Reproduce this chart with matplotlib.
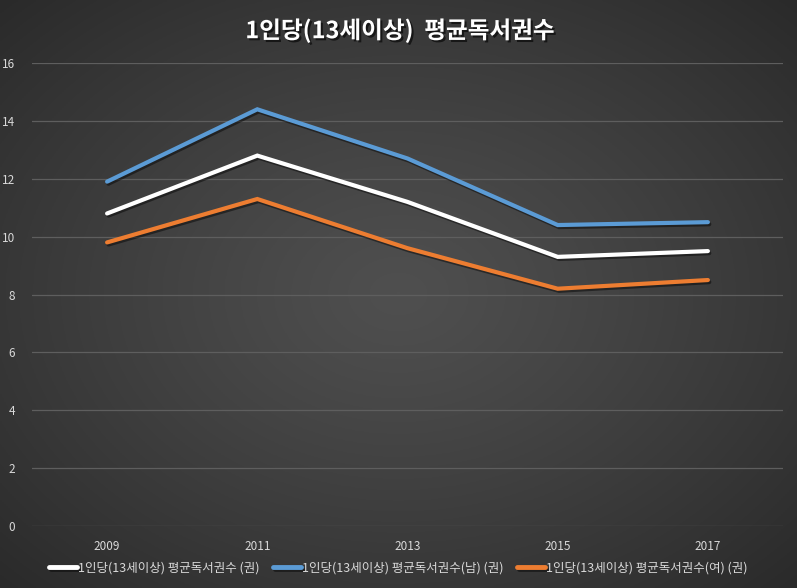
import numpy as np
import matplotlib.pyplot as plt
import matplotlib.patheffects as pe

plt.rcParams['font.family'] = ['Noto Sans CJK KR', 'DejaVu Sans']

years = ['2009', '2011', '2013', '2015', '2017']
total = [10.8, 12.8, 11.2, 9.3, 9.5]
male = [11.9, 14.4, 12.7, 10.4, 10.5]
female = [9.8, 11.3, 9.6, 8.2, 8.5]
labels = ['1인당(13세이상) 평균독서권수 (권)',
          '1인당(13세이상) 평균독서권수(남) (권)',
          '1인당(13세이상) 평균독서권수(여) (권)']
colors = ['#ffffff', '#5b9bd5', '#ed7d31']
yticks = [0, 2, 4, 6, 8, 10, 12, 14, 16]

fig = plt.figure(figsize=(7.97, 5.88), dpi=100)

# radial gradient background
bg = fig.add_axes([0, 0, 1, 1], zorder=-10)
gx, gy = np.meshgrid(np.linspace(-1, 1, 400), np.linspace(-1, 1, 300))
r = np.clip(np.sqrt(gx**2 + gy**2) / np.sqrt(2), 0, 1)
shade = 0.31 - 0.145 * r**1.2
bg.imshow(np.dstack([shade, shade, shade]), aspect='auto', extent=[0, 1, 0, 1])
bg.axis('off')

ax = fig.add_axes([32 / 797, 62 / 588, 751 / 797, 463 / 588])
ax.patch.set_alpha(0)
x = np.arange(len(years))
shadow = [pe.SimpleLineShadow(offset=(1, -1.5), shadow_color='black', alpha=0.45), pe.Normal()]
for vals, c, lab in zip([total, male, female], colors, labels):
    ax.plot(x, vals, color=c, lw=3.0, label=lab, solid_capstyle='round',
            solid_joinstyle='miter', path_effects=shadow)

ax.set_xlim(-0.5, len(years) - 0.5)
ax.set_ylim(0, 16)
ax.set_yticks(yticks)
ax.set_xticks(x)
ax.set_xticklabels(years)
ax.grid(axis='y', color='#5e5e5e', lw=0.9)
ax.set_axisbelow(True)
for s in ax.spines.values():
    s.set_visible(False)
ax.tick_params(length=0, colors='#d9d9d9', labelsize=8.5)
ax.tick_params(axis='y', pad=12)
ax.tick_params(axis='x', pad=10)

fig.text(0.502, 0.948, '1인당(13세이상)  평균독서권수', ha='center', va='center',
         fontsize=17, fontweight='bold', color='white',
         path_effects=[pe.withSimplePatchShadow(offset=(1.5, -1.5), shadow_rgbFace='black', alpha=0.6)])

leg = fig.legend(loc='center', bbox_to_anchor=(0.5, 0.034), ncol=3, frameon=False,
                 fontsize=9.0, handlelength=2.2, handletextpad=0.1, columnspacing=1.1,
                 labelcolor='#d9d9d9')
for h in leg.get_lines():
    h.set_linewidth(3.5)

fig.savefig('out.png', dpi=100)
